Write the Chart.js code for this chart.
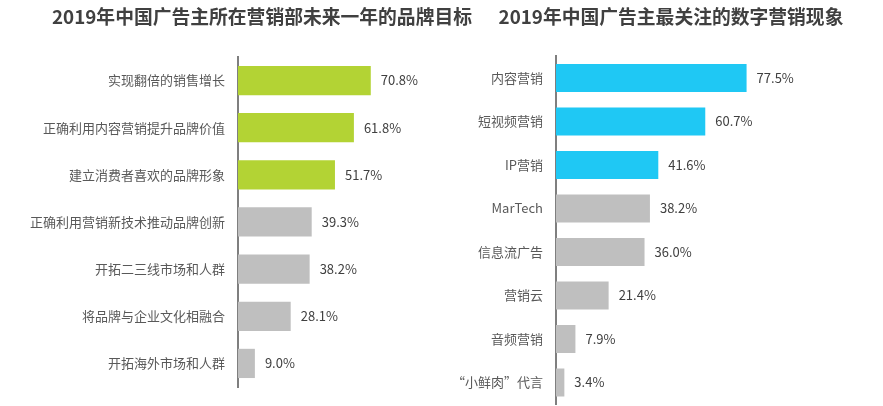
<!DOCTYPE html>
<html>
<head>
<meta charset="utf-8">
<script src="https://cdn.jsdelivr.net/npm/chart.js@4.4.1/dist/chart.umd.min.js"></script>
<style>
  html, body { margin: 0; padding: 0; background: #fff; overflow: hidden; }
  #wrapL { position: absolute; left: 0; top: 0; width: 524px; height: 406px; }
  #wrapR { position: absolute; left: 440px; top: 0; width: 462px; height: 406px; }
</style>
</head>
<body>
<div id="wrapL"><canvas id="chartL"></canvas></div>
<div id="wrapR"><canvas id="chartR"></canvas></div>
<script>
var leftTitle = "2019年中国广告主所在营销部未来一年的品牌目标";
var leftLabels = ["实现翻倍的销售增长", "正确利用内容营销提升品牌价值", "建立消费者喜欢的品牌形象",
  "正确利用营销新技术推动品牌创新", "开拓二三线市场和人群", "将品牌与企业文化相融合", "开拓海外市场和人群"];
var leftValues = [70.8, 61.8, 51.7, 39.3, 38.2, 28.1, 9.0];
var leftHighlight = 3;

var rightTitle = "2019年中国广告主最关注的数字营销现象";
var rightLabels = ["内容营销", "短视频营销", "IP营销", "MarTech", "信息流广告", "营销云", "音频营销", "“小鲜肉”代言"];
var rightValues = [77.5, 60.7, 41.6, 38.2, 36.0, 21.4, 7.9, 3.4];
var rightHighlight = 3;

var FONT = "'Noto Sans CJK SC', 'Noto Sans', sans-serif";
var GRAY = "#bfbfbf";

// percentage text just right of each bar
var valueLabels = {
  id: "valueLabels",
  afterDatasetsDraw: function(chart) {
    var ctx = chart.ctx;
    var meta = chart.getDatasetMeta(0);
    var data = chart.data.datasets[0].data;
    ctx.save();
    ctx.font = "13px " + FONT;
    ctx.fillStyle = "#404040";
    ctx.textAlign = "left";
    ctx.textBaseline = "middle";
    meta.data.forEach(function(bar, i) {
      ctx.fillText(data[i].toFixed(1) + "%", bar.x + 10, bar.y);
    });
    ctx.restore();
  }
};

function makeChart(id, title, labels, values, highlight, color, opts) {
  var colors = values.map(function(v, i) { return i < highlight ? color : GRAY; });
  return new Chart(document.getElementById(id), {
    type: "bar",
    data: {
      labels: labels,
      datasets: [{
        data: values,
        backgroundColor: colors,
        borderWidth: 0,
        barPercentage: opts.barPct,
        categoryPercentage: 1
      }]
    },
    options: {
      indexAxis: "y",
      responsive: true,
      maintainAspectRatio: false,
      animation: false,
      layout: { padding: { left: 0, right: 0, top: 0, bottom: opts.padBottom } },
      plugins: {
        legend: { display: false },
        tooltip: { enabled: false },
        title: {
          display: true,
          text: title,
          align: "center",
          color: "#404040",
          font: { family: FONT, size: 18.8, weight: "bold" },
          padding: { top: 5.7, bottom: opts.titleBottom }
        }
      },
      scales: {
        x: { display: false, min: 0, max: opts.xMax },
        y: {
          afterFit: function(scale) {
            scale.width = opts.axisWidth;
            scale.paddingTop = 0;
            scale.paddingBottom = 0;
          },
          grid: { display: false, drawTicks: false },
          border: { display: true, color: "#7f7f7f", width: 2 },
          ticks: { color: "#595959", padding: 13, font: { family: FONT, size: 13 } }
        }
      }
    },
    plugins: [valueLabels]
  });
}

makeChart("chartL", leftTitle, leftLabels, leftValues, leftHighlight, "#b3d334",
  { xMax: 152.5, padBottom: 19, axisWidth: 238, barPct: 0.62, titleBottom: 28.7 });
makeChart("chartR", rightTitle, rightLabels, rightValues, rightHighlight, "#1fc8f4",
  { xMax: 140.7, padBottom: 1.75, axisWidth: 116, barPct: 0.64, titleBottom: 28 });
</script>
</body>
</html>
